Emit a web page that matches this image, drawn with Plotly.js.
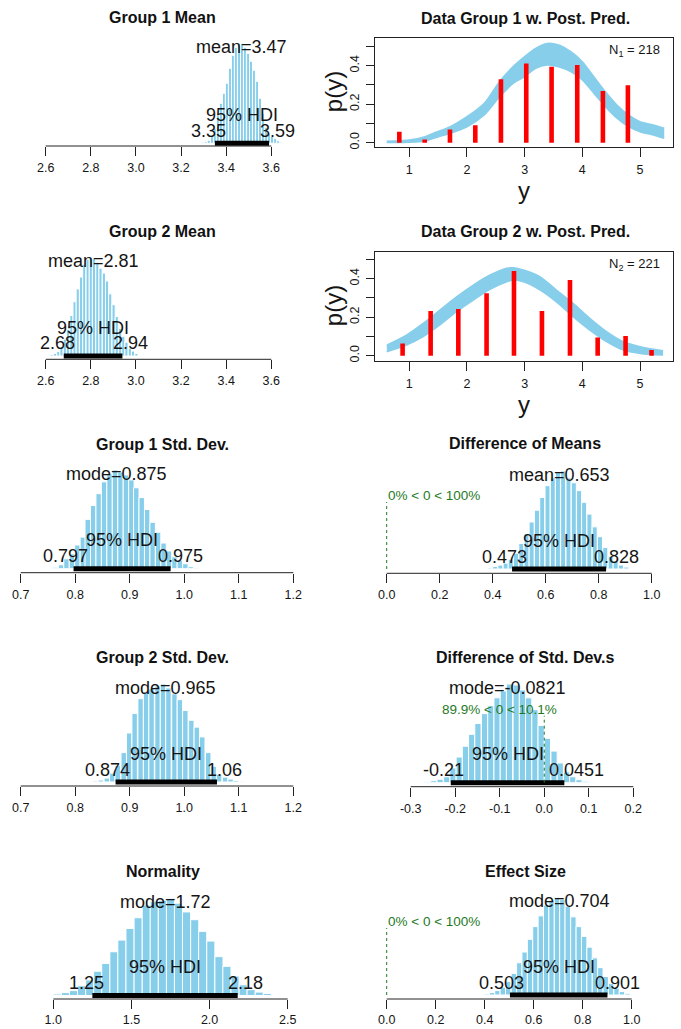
<!DOCTYPE html>
<html><head><meta charset="utf-8">
<script src="https://cdn.plot.ly/plotly-3.0.1.min.js"></script>
<style>html,body{margin:0;padding:0;background:#fff;}#chart{width:681px;height:1029px;}</style>
</head><body><div id="chart"></div>
<script>
// ================= DATA =================
// Group 1 Mean posterior histogram
const g1MeanBins = [3.297,3.310,3.323,3.337,3.350,3.363,3.377,3.390,3.403,3.417,3.430,3.443,3.457,3.470,3.483,3.497,3.510,3.523,3.537,3.550,3.563,3.577,3.590,3.603,3.617,3.630,3.643];
const g1MeanHeights = [0.01,0.015,0.03,0.08,0.15,0.28,0.4,0.5,0.6,0.75,0.88,0.96,0.99,1.0,0.96,0.9,0.82,0.73,0.62,0.45,0.3,0.16,0.1,0.07,0.05,0.025,0.01];
const g1MeanHDI = [3.35, 3.59];
const g1MeanCT = 3.47;
// Group 2 Mean
const g2MeanBins = [2.627,2.641,2.656,2.670,2.685,2.699,2.714,2.728,2.742,2.757,2.771,2.786,2.800,2.814,2.829,2.843,2.858,2.872,2.886,2.901,2.915,2.930,2.944,2.958,2.973,2.987,3.002];
const g2MeanHeights = [0.015,0.025,0.045,0.09,0.17,0.27,0.41,0.55,0.68,0.8,0.93,0.98,1.0,0.99,0.95,0.89,0.84,0.76,0.63,0.52,0.4,0.28,0.2,0.14,0.08,0.05,0.025];
const g2MeanHDI = [2.68, 2.94];
const g2MeanCT = 2.81;
// Group 1 Std. Dev.
const g1SdBins = [0.764,0.774,0.784,0.794,0.804,0.814,0.823,0.833,0.843,0.853,0.863,0.873,0.883,0.893,0.903,0.912,0.922,0.932,0.942,0.952,0.962,0.972,0.982,0.992,1.002,1.012,1.021];
const g1SdHeights = [0.015,0.04,0.1,0.15,0.24,0.32,0.5,0.64,0.76,0.88,0.96,1.0,0.98,0.95,0.9,0.82,0.72,0.6,0.47,0.37,0.26,0.18,0.12,0.085,0.05,0.02,0.01];
const g1SdHDI = [0.797, 0.975];
const g1SdCT = 0.875;
// Group 2 Std. Dev.
const g2SdBins = [0.837,0.847,0.858,0.868,0.878,0.889,0.899,0.909,0.920,0.930,0.940,0.951,0.961,0.971,0.982,0.992,1.002,1.013,1.023,1.033,1.044,1.054,1.064,1.075,1.085,1.095,1.106];
const g2SdHeights = [0.01,0.02,0.04,0.09,0.17,0.3,0.5,0.7,0.85,0.92,0.95,0.98,1.0,0.96,0.9,0.84,0.73,0.63,0.56,0.46,0.3,0.16,0.08,0.05,0.03,0.015,0.007];
const g2SdHDI = [0.874, 1.06];
const g2SdCT = 0.965;
// Normality (log10 nu)
const normBins = [1.026,1.078,1.129,1.181,1.233,1.284,1.336,1.388,1.439,1.491,1.543,1.595,1.646,1.698,1.750,1.801,1.853,1.905,1.956,2.008,2.060,2.111,2.163,2.215,2.266,2.318,2.370,2.421];
const normHeights = [0.015,0.03,0.05,0.1,0.16,0.25,0.33,0.45,0.57,0.69,0.8,0.93,0.97,0.98,1.0,0.95,0.86,0.78,0.66,0.56,0.4,0.3,0.2,0.11,0.06,0.035,0.02,0.01];
const normHDI = [1.25, 2.18];
const normCT = 1.72;
// Difference of Means
const dMeanBins = [0.390,0.409,0.429,0.449,0.468,0.488,0.508,0.528,0.547,0.567,0.587,0.607,0.627,0.646,0.666,0.686,0.706,0.726,0.745,0.765,0.785,0.805,0.825,0.845,0.864,0.884,0.904];
const dMeanHeights = [0.01,0.025,0.04,0.06,0.1,0.16,0.26,0.36,0.48,0.6,0.73,0.85,0.93,0.99,1.0,0.93,0.88,0.8,0.68,0.56,0.43,0.33,0.22,0.13,0.08,0.04,0.02];
const dMeanHDI = [0.473, 0.828];
const dMeanCT = 0.653;
// Difference of Std. Dev.s
const dSdBins = [-0.262,-0.248,-0.234,-0.219,-0.205,-0.191,-0.177,-0.163,-0.149,-0.134,-0.120,-0.106,-0.092,-0.078,-0.063,-0.049,-0.035,-0.021,-0.007,0.007,0.022,0.036,0.050,0.064,0.078,0.092,0.107];
const dSdHeights = [0.01,0.02,0.035,0.06,0.15,0.26,0.37,0.49,0.6,0.7,0.78,0.86,0.93,1.0,0.99,0.94,0.86,0.74,0.58,0.45,0.32,0.2,0.11,0.06,0.03,0.015,0.007];
const dSdHDI = [-0.21, 0.0451];
const dSdCT = -0.0821;
// Effect Size
const effBins = [0.408,0.430,0.452,0.474,0.496,0.519,0.541,0.563,0.585,0.607,0.629,0.651,0.673,0.695,0.717,0.739,0.762,0.784,0.806,0.828,0.850,0.872,0.894,0.916,0.938,0.960,0.983];
const effHeights = [0.01,0.025,0.045,0.08,0.14,0.22,0.33,0.44,0.57,0.7,0.81,0.92,0.97,1.0,0.98,0.91,0.8,0.7,0.6,0.49,0.38,0.28,0.19,0.12,0.07,0.035,0.017];
const effHDI = [0.503, 0.901];
const effCT = 0.704;

// comparison value (0) percentages: Diff of Means, Diff of SDs, Effect size
const compValue = 0;
const compBelow = [0, 89.9, 0];
const compAbove = [100, 10.1, 100];

// tick values
const meanTicks = [2.6, 2.8, 3.0, 3.2, 3.4, 3.6];
const sdTicks = [0.7, 0.8, 0.9, 1.0, 1.1, 1.2];
const normTicks = [1.0, 1.5, 2.0, 2.5];
const dMeanTicks = [0.0, 0.2, 0.4, 0.6, 0.8, 1.0];
const dSdTicks = [-0.3, -0.2, -0.1, 0.0, 0.1, 0.2];
const effTicks = [0.0, 0.2, 0.4, 0.6, 0.8, 1.0];
const dataTicksX = [1, 2, 3, 4, 5];
const dataTicksY = [0.0, 0.2, 0.4];
const dataMinorTicksY = [0.1, 0.3, 0.5];

// observed data histograms (red)
const data1X = [0.827,1.267,1.705,2.144,2.589,3.028,3.467,3.912,4.357,4.79];
const data1P = [0.057,0.017,0.069,0.09,0.329,0.412,0.395,0.403,0.268,0.298];
const data2X = [0.884,1.37,1.85,2.34,2.815,3.30,3.786,4.266,4.75,5.20];
const data2P = [0.064,0.232,0.242,0.324,0.44,0.232,0.393,0.094,0.102,0.029];
const nGroup = [218, 221];

// posterior predictive band (envelope of the credible curves)
const pred1X = [0.61,1.0,1.27,1.42,1.71,2.0,2.3,2.57,2.80,3.0,3.19,3.39,3.59,3.80,4.0,4.2,4.4,4.6,4.8,5.0,5.23,5.42];
const pred1Upper = [0.008,0.014,0.031,0.049,0.083,0.135,0.205,0.32,0.395,0.447,0.49,0.516,0.508,0.473,0.421,0.343,0.265,0.196,0.144,0.109,0.092,0.075];
const pred1Lower = [0.001,0.002,0.009,0.023,0.049,0.083,0.144,0.24,0.308,0.343,0.386,0.404,0.395,0.369,0.326,0.257,0.187,0.127,0.083,0.057,0.04,0.023];
const pred2X = [0.61,0.95,1.24,1.53,1.82,2.11,2.40,2.69,2.80,2.98,3.27,3.55,3.84,4.13,4.42,4.71,5.0,5.40];
const pred2Upper = [0.055,0.107,0.168,0.237,0.306,0.367,0.419,0.454,0.457,0.445,0.41,0.341,0.272,0.194,0.125,0.073,0.047,0.026];
const pred2Lower = [0.02,0.055,0.099,0.16,0.229,0.289,0.345,0.384,0.393,0.384,0.341,0.28,0.203,0.133,0.073,0.029,0.012,0.003];

// ================= DRAWING =================
const W = 681, H = 1029;
const fy = p => 1 - p / H, fx = p => p / W;
const FONT = '"Liberation Sans", Arial, Helvetica, sans-serif';
const TXT = '#151515';
const SKY = '#87CEEB';
const GREEN = '#1f7a1f';
const ctx = document.createElement('canvas').getContext('2d');
function tw(t, size) { ctx.font = size + 'px "Liberation Sans"'; return ctx.measureText(t).width; }

const traces = [];
const layout = {
  width: W, height: H, margin: {l: 0, r: 0, t: 0, b: 0},
  paper_bgcolor: '#fff', plot_bgcolor: 'rgba(0,0,0,0)', showlegend: false,
  font: {family: FONT, color: TXT}, annotations: [], shapes: [], bargap: 0
};
const suf = n => (n === 1 ? '' : String(n));

function ann(o) {
  layout.annotations.push(Object.assign({showarrow: false, borderpad: 0, xanchor: 'center', yanchor: 'middle'}, o));
}

function histPanel(c) {
  const xa = 'x' + suf(c.n), ya = 'y' + suf(c.n);
  const t0 = c.ticks[0], t1 = c.ticks[c.ticks.length - 1];
  const sc = (t1 - t0) / (c.tickPx[1] - c.tickPx[0]);
  const range = [t0 + (c.L - c.tickPx[0]) * sc, t0 + (c.R - c.tickPx[0]) * sc];
  const T = c.P - 14, s = c.Bs - c.P;
  layout['xaxis' + suf(c.n)] = {
    domain: [fx(c.L), fx(c.R)], range: range, anchor: ya,
    tickmode: 'array', tickvals: c.ticks, ticktext: c.ticks.map(v => v.toFixed(1)),
    ticks: 'outside', ticklen: 9, tickwidth: 1, tickcolor: '#222',
    showline: false, showgrid: false, zeroline: false,
    tickfont: {size: 12.5, color: TXT}, ticklabelstandoff: c.standoff, fixedrange: true
  };
  layout['yaxis' + suf(c.n)] = {
    domain: [fy(c.A), fy(T)], range: [-(c.A - c.Bs) / s, (c.Bs - T) / s],
    anchor: xa, visible: false, fixedrange: true
  };
  layout.shapes.push({type: 'line', xref: xa, yref: 'paper', x0: t0, x1: t1, y0: fy(c.A), y1: fy(c.A), line: {color: '#222', width: 1}});
  traces.push({type: 'bar', x: c.x, y: c.h, width: c.x[1] - c.x[0], xaxis: xa, yaxis: ya,
    marker: {color: SKY, line: {color: '#ffffff', width: 1}}, hoverinfo: 'skip'});
  traces.push({type: 'scatter', mode: 'lines', x: c.hdi, y: [0, 0], xaxis: xa, yaxis: ya,
    line: {color: '#000', width: 5}, hoverinfo: 'skip'});
  ann({xref: 'paper', yref: 'paper', x: fx((c.L + c.R) / 2), y: fy(c.titleY), text: '<b>' + c.title + '</b>', font: {size: 16, color: '#111'}});
  ann({xref: xa, yref: 'paper', x: c.ct, y: fy(c.P + 4), text: c.ctName + '=' + c.ct, font: {size: 18, color: TXT}});
  ann({xref: xa, yref: 'paper', x: (c.hdi[0] + c.hdi[1]) / 2, y: fy(c.Bs - 28.5), text: '95% HDI', font: {size: 18, color: TXT}});
  const lo = String(c.hdi[0]), hi = String(c.hdi[1]);
  ann({xref: xa, yref: 'paper', x: c.hdi[0], xanchor: 'left', xshift: -0.7 * tw(lo, 18), y: fy(c.Bs - 12.5), text: lo, font: {size: 18, color: TXT}});
  ann({xref: xa, yref: 'paper', x: c.hdi[1], xanchor: 'left', xshift: -0.3 * tw(hi, 18), y: fy(c.Bs - 12.5), text: hi, font: {size: 18, color: TXT}});
  if (c.comp !== undefined) {
    const txt = compBelow[c.comp] + '% < ' + compValue + ' < ' + compAbove[c.comp] + '%';
    ann({xref: xa, yref: 'paper', x: compValue, xanchor: 'left', xshift: -(compBelow[c.comp] / 100) * tw(txt, 13.5),
      y: fy(c.Bs - 73.5), text: txt, font: {size: 13.5, color: GREEN}});
    traces.push({type: 'scatter', mode: 'lines', x: [compValue, compValue], y: [0, 67 / s], xaxis: xa, yaxis: ya,
      line: {color: GREEN, width: 1, dash: 'dot'}, hoverinfo: 'skip'});
  }
}

function dataPanel(c) {
  const xa = 'x' + suf(c.n), ya = 'y' + suf(c.n);
  const ppu = (c.zeroPx - c.p04Px) / 0.4;
  const xsc = (5 - 1) / (c.tick5Px - c.tick1Px);
  layout['xaxis' + suf(c.n)] = {
    domain: [fx(c.L), fx(c.R)], range: [1 + (c.L - c.tick1Px) * xsc, 1 + (c.R - c.tick1Px) * xsc], anchor: ya,
    tickmode: 'array', tickvals: dataTicksX, ticktext: dataTicksX.map(String),
    ticks: 'outside', ticklen: 9, tickwidth: 1, tickcolor: '#222',
    showline: true, mirror: true, linecolor: '#222', linewidth: 1,
    showgrid: false, zeroline: false, tickfont: {size: 12.5, color: TXT}, ticklabelstandoff: 2, fixedrange: true
  };
  layout['yaxis' + suf(c.n)] = {
    domain: [fy(c.bottom), fy(c.top)], range: [-(c.bottom - c.zeroPx) / ppu, (c.zeroPx - c.top) / ppu], anchor: xa,
    tickmode: 'array', tickvals: dataTicksY, ticktext: dataTicksY.map(v => v.toFixed(1)), tickangle: -90,
    ticks: 'outside', ticklen: 8, tickwidth: 1, tickcolor: '#222',
    minor: {tickmode: 'array', tickvals: dataMinorTicksY, ticks: 'outside', ticklen: 8, tickwidth: 1, tickcolor: '#222', showgrid: false},
    showline: true, mirror: true, linecolor: '#222', linewidth: 1,
    showgrid: false, zeroline: false, tickfont: {size: 12.5, color: TXT}, ticklabelstandoff: 2, fixedrange: true
  };
  traces.push({type: 'scatter', mode: 'lines', x: c.px, y: c.lower, xaxis: xa, yaxis: ya,
    line: {color: SKY, width: 1.5, shape: 'spline', smoothing: 0.8}, hoverinfo: 'skip'});
  traces.push({type: 'scatter', mode: 'lines', x: c.px, y: c.upper, xaxis: xa, yaxis: ya, fill: 'tonexty', fillcolor: SKY,
    line: {color: SKY, width: 1.5, shape: 'spline', smoothing: 0.8}, hoverinfo: 'skip'});
  // red data bars drawn as thick vertical segments so they sit above the band
  const sx = [], sy = [];
  c.dx.forEach((v, i) => { sx.push(v, v, null); sy.push(0, c.dp[i], null); });
  traces.push({type: 'scatter', mode: 'lines', x: sx, y: sy, xaxis: xa, yaxis: ya, connectgaps: false,
    line: {color: '#ff0000', width: 4.6}, hoverinfo: 'skip'});
  ann({xref: 'paper', yref: 'paper', x: fx((c.L + c.R) / 2 + 1), y: fy(c.titleY), text: '<b>' + c.title + '</b>', font: {size: 16, color: '#111'}});
  ann({xref: 'paper', yref: 'paper', x: fx(661), xanchor: 'right', y: fy(c.top + 13), text: 'N<sub>' + c.gi + '</sub> = ' + nGroup[c.gi - 1], font: {size: 13, color: TXT}});
  ann({xref: 'paper', yref: 'paper', x: fx(524), y: fy(c.bottom + 44), text: 'y', font: {size: 24, color: TXT}});
  ann({xref: 'paper', yref: 'paper', x: fx(333), y: fy((c.top + c.bottom) / 2), text: 'p(y)', textangle: -90, font: {size: 24, color: TXT}});
}

const LL = 14, LR = 311, RL = 376, RR = 674;
histPanel({n: 1, L: LL, R: LR, A: 146, P: 43.3, Bs: 143.3, standoff: 1, titleY: 17.5, title: 'Group 1 Mean', ticks: meanTicks, tickPx: [45.7, 271.3], x: g1MeanBins, h: g1MeanHeights, hdi: g1MeanHDI, ctName: 'mean', ct: g1MeanCT});
histPanel({n: 3, L: LL, R: LR, A: 359.3, P: 257.3, Bs: 356, standoff: 1, titleY: 231.7, title: 'Group 2 Mean', ticks: meanTicks, tickPx: [45.7, 271.3], x: g2MeanBins, h: g2MeanHeights, hdi: g2MeanHDI, ctName: 'mean', ct: g2MeanCT});
histPanel({n: 5, L: LL, R: LR, A: 572.7, P: 470, Bs: 568.7, standoff: 1, titleY: 444.3, title: 'Group 1 Std. Dev.', ticks: sdTicks, tickPx: [20.7, 293.3], x: g1SdBins, h: g1SdHeights, hdi: g1SdHDI, ctName: 'mode', ct: g1SdCT});
histPanel({n: 7, L: LL, R: LR, A: 786, P: 684, Bs: 782, standoff: 1, titleY: 657.3, title: 'Group 2 Std. Dev.', ticks: sdTicks, tickPx: [20.7, 293.3], x: g2SdBins, h: g2SdHeights, hdi: g2SdHDI, ctName: 'mode', ct: g2SdCT});
histPanel({n: 9, L: LL, R: LR, A: 999, P: 898.3, Bs: 995.5, standoff: 0, titleY: 871.7, title: 'Normality', ticks: normTicks, tickPx: [53.3, 287.7], x: normBins, h: normHeights, hdi: normHDI, ctName: 'mode', ct: normCT});
histPanel({n: 6, L: RL, R: RR, A: 573.3, P: 471, Bs: 569, standoff: 1, titleY: 443.3, title: 'Difference of Means', ticks: dMeanTicks, tickPx: [386.7, 651.7], x: dMeanBins, h: dMeanHeights, hdi: dMeanHDI, ctName: 'mean', ct: dMeanCT, comp: 0});
histPanel({n: 8, L: RL, R: RR, A: 786.7, P: 684, Bs: 782.7, standoff: 1, titleY: 657.7, title: 'Difference of Std. Dev.s', ticks: dSdTicks, tickPx: [410.7, 633.3], x: dSdBins, h: dSdHeights, hdi: dSdHDI, ctName: 'mode', ct: dSdCT, comp: 1});
histPanel({n: 10, L: RL, R: RR, A: 999, P: 897.3, Bs: 995, standoff: 0, titleY: 871.7, title: 'Effect Size', ticks: effTicks, tickPx: [386.7, 631.7], x: effBins, h: effHeights, hdi: effHDI, ctName: 'mode', ct: effCT, comp: 2});

dataPanel({n: 2, gi: 1, L: 375, R: 673, top: 37.7, bottom: 146.7, zeroPx: 142.7, p04Px: 65.7, tick1Px: 409.3, tick5Px: 640, titleY: 18, title: 'Data Group 1 w. Post. Pred.', px: pred1X, upper: pred1Upper, lower: pred1Lower, dx: data1X, dp: data1P});
dataPanel({n: 4, gi: 2, L: 375, R: 673, top: 251.7, bottom: 360.7, zeroPx: 355.7, p04Px: 278.7, tick1Px: 409.3, tick5Px: 640, titleY: 231.7, title: 'Data Group 2 w. Post. Pred.', px: pred2X, upper: pred2Upper, lower: pred2Lower, dx: data2X, dp: data2P});

Plotly.newPlot('chart', traces, layout, {displayModeBar: false, staticPlot: true});
</script>
</body></html>
